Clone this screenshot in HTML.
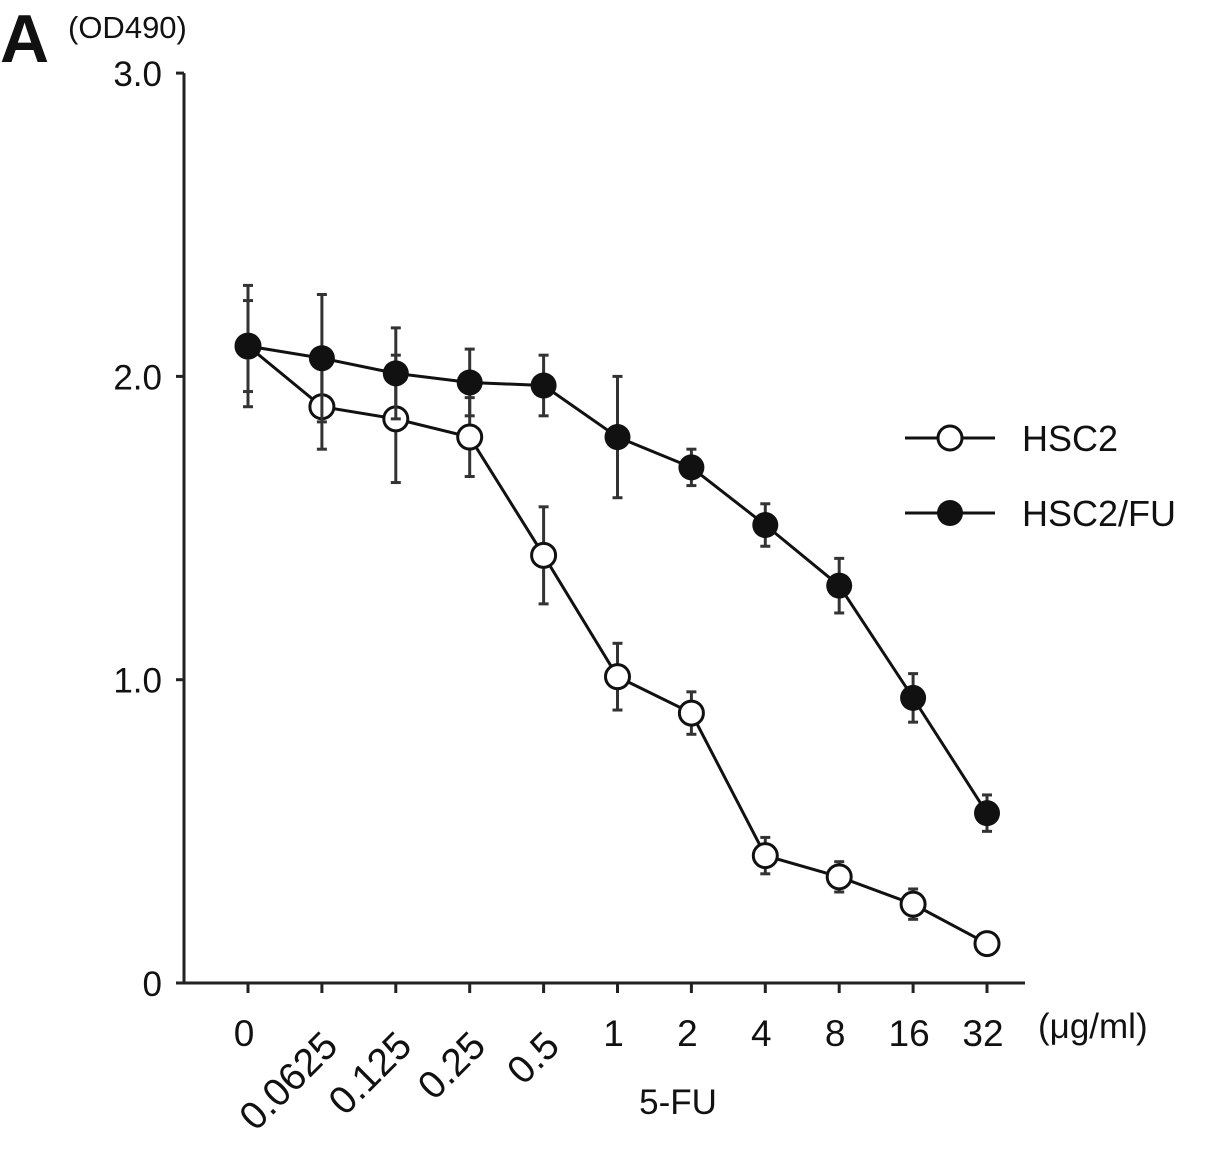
<!DOCTYPE html>
<html><head><meta charset="utf-8"><style>
body{margin:0;background:#fff;}
svg text{font-family:"Liberation Sans",Arial,sans-serif;fill:#111;}
</style></head><body>
<svg id="chart" width="1205" height="1149" viewBox="0 0 1205 1149">
<text x="0" y="62" font-size="68" font-weight="bold">A</text>
<text x="68" y="38" font-size="31">(OD490)</text>
<text x="1038" y="1038" font-size="35">(μg/ml)</text>
<text x="678" y="1114" font-size="35" text-anchor="middle">5-FU</text>
<g id="axes"></g>
<g id="series"></g>
<g id="legend">
<line x1="905" y1="438" x2="995" y2="438" stroke="#111" stroke-width="3"/>
<circle cx="950" cy="438" r="12" fill="#fff" stroke="#111" stroke-width="3"/>
<text x="1022" y="451" font-size="36">HSC2</text>
<line x1="905" y1="513" x2="995" y2="513" stroke="#111" stroke-width="3"/>
<circle cx="950" cy="513" r="13" fill="#111"/>
<text x="1022" y="526" font-size="36">HSC2/FU</text>
</g>
</svg>
<script>
const categories=["0","0.0625","0.125","0.25","0.5","1","2","4","8","16","32"];
const hsc2=[2.10,1.90,1.86,1.80,1.41,1.01,0.89,0.42,0.35,0.26,0.13];
const hsc2Err=[0.15,0.14,0.21,0.13,0.16,0.11,0.07,0.06,0.05,0.05,0.03];
const hsc2fu=[2.10,2.06,2.01,1.98,1.97,1.80,1.70,1.51,1.31,0.94,0.56];
const hsc2fuErr=[0.20,0.21,0.15,0.11,0.10,0.20,0.06,0.07,0.09,0.08,0.06];
const yTicks=[0,1,2,3];
const yTickLabels=["0","1.0","2.0","3.0"];
const NS="http://www.w3.org/2000/svg";
const x0=248,dx=73.9;
function xs(i){return x0+i*dx;}
function ys(v){return 983-v*303.3;}
function mk(tag,attrs,parent){const e=document.createElementNS(NS,tag);for(const k in attrs)e.setAttribute(k,attrs[k]);parent.appendChild(e);return e;}
const axes=document.getElementById('axes'),ser=document.getElementById('series');
let e;
e=mk('line',{x1:184,y1:ys(3),x2:184,y2:984,stroke:'#222','stroke-width':3},axes);


e=mk('line',{x1:183,y1:983,x2:1025,y2:983,stroke:'#222','stroke-width':3},axes);


yTicks.forEach((t,i)=>{
 e=mk('line',{x1:176,y1:ys(t),x2:184,y2:ys(t),stroke:'#222','stroke-width':3},axes);
 
 
 e=mk('text',{x:162,y:ys(t)+13,'font-size':35,'text-anchor':'end'},axes);
 e.textContent=yTickLabels[i];
 
 
});
categories.forEach((c,i)=>{
 const x=xs(i);
 e=mk('line',{x1:x,y1:983,x2:x,y2:993,stroke:'#222','stroke-width':3},axes);
 
 
 if(c.indexOf('.')>=0){
  e=mk('text',{x:x+18,y:1048,'font-size':39,'text-anchor':'end',transform:`rotate(-45 ${x+18} 1048)`},axes);
 }else{
  e=mk('text',{x:x-4,y:1046,'font-size':37,'text-anchor':'middle'},axes);
 }
 e.textContent=c;
 
 
});
function drawSeries(vals,errs,filled,name){
 const g=mk('g',{},ser);
 
 
 vals.forEach((v,i)=>{
  const x=xs(i);
  e=mk('line',{x1:x,y1:ys(v+errs[i]),x2:x,y2:ys(v-errs[i]),stroke:'#333','stroke-width':3},g);
  
  
  [v+errs[i],v-errs[i]].forEach(w=>{
   e=mk('line',{x1:x-5,y1:ys(w),x2:x+5,y2:ys(w),stroke:'#333','stroke-width':3},g);
   
   
  });
 });
 e=mk('polyline',{points:vals.map((v,i)=>xs(i)+','+ys(v)).join(' '),fill:'none',stroke:'#111','stroke-width':3},g);
 
 
 vals.forEach((v,i)=>{
  e=filled?mk('circle',{cx:xs(i),cy:ys(v),r:13,fill:'#111'},g):mk('circle',{cx:xs(i),cy:ys(v),r:12,fill:'#fff',stroke:'#111','stroke-width':3},g);
  
  
 });
}
drawSeries(hsc2,hsc2Err,false,'hsc2');
drawSeries(hsc2fu,hsc2fuErr,true,'hsc2fu');
</script>
</body></html>
